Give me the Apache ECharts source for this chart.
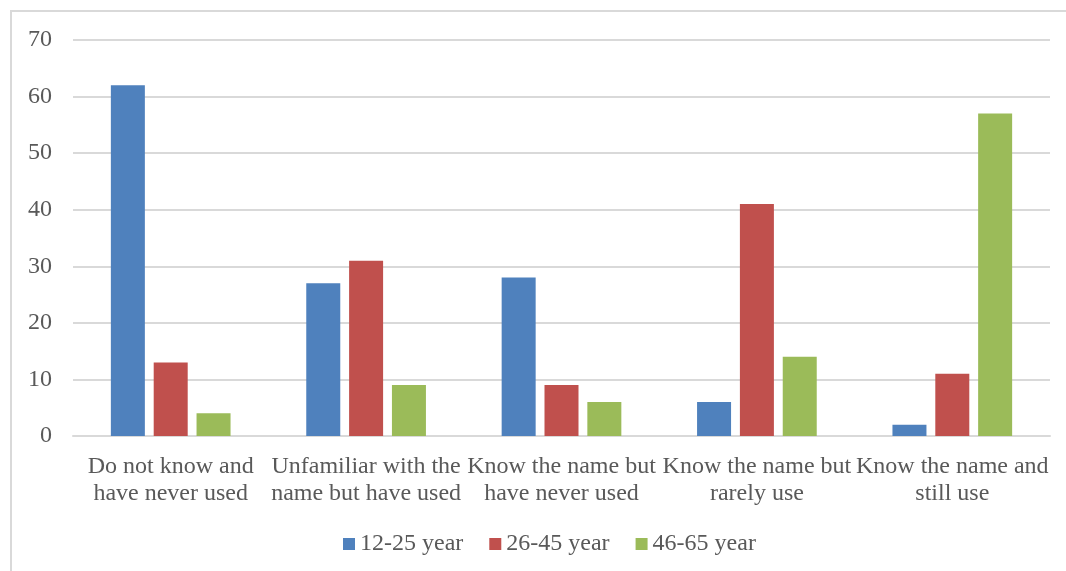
<!DOCTYPE html>
<html>
<head>
<meta charset="utf-8">
<script src="https://cdn.jsdelivr.net/npm/echarts@6/dist/echarts.min.js"></script>
<style>
html,body{margin:0;padding:0;background:#fff;}
#frame{position:absolute;left:10px;top:10px;width:1070px;height:570px;border:2px solid #d9d9d9;box-sizing:border-box;}
#chart{position:absolute;left:0;top:0;width:1066px;height:571px;}
</style>
</head>
<body>
<div id="frame"></div>
<div id="chart"></div>
<script>
const categories = ['Do not know and\nhave never used','Unfamiliar with the\nname but have used','Know the name but\nhave never used','Know the name but\nrarely use','Know the name and\nstill use'];
const seriesNames = ['12-25 year','26-45 year','46-65 year'];
const young = [62, 27, 28, 6, 2];
const middle = [13, 31, 9, 41, 11];
const older = [4, 9, 6, 14, 57];
const colors = ['#4F81BD','#C0504D','#9BBB59'];
const font = '"Liberation Serif", "Times New Roman", serif';

const chart = echarts.init(document.getElementById('chart'));
chart.setOption({
  animation:false,
  textStyle:{fontFamily:font},
  grid:{left:73,right:16,top:40,bottom:135,containLabel:false},
  legend:{
    bottom:10, left:338,
    itemWidth:12,itemHeight:12,itemGap:26,
    icon:'rect',
    textStyle:{fontFamily:font,fontSize:24,color:'#595959'},
    data:seriesNames
  },
  xAxis:{
    type:'category',data:categories,
    axisLine:{lineStyle:{color:'#d9d9d9',width:2}},
    axisTick:{show:false},
    axisLabel:{interval:0,fontFamily:font,fontSize:24,color:'#595959',lineHeight:27,margin:17}
  },
  yAxis:{
    type:'value',min:0,max:70,interval:10,
    axisLine:{show:false},axisTick:{show:false},
    splitLine:{lineStyle:{color:'#d9d9d9',width:2}},
    axisLabel:{fontFamily:font,fontSize:24,color:'#595959',margin:21}
  },
  series:[
    {name:seriesNames[0],type:'bar',data:young,itemStyle:{color:colors[0]},barWidth:34,barGap:'26%'},
    {name:seriesNames[1],type:'bar',data:middle,itemStyle:{color:colors[1]},barWidth:34,barGap:'26%'},
    {name:seriesNames[2],type:'bar',data:older,itemStyle:{color:colors[2]},barWidth:34,barGap:'26%'}
  ]
});
</script>
</body>
</html>
